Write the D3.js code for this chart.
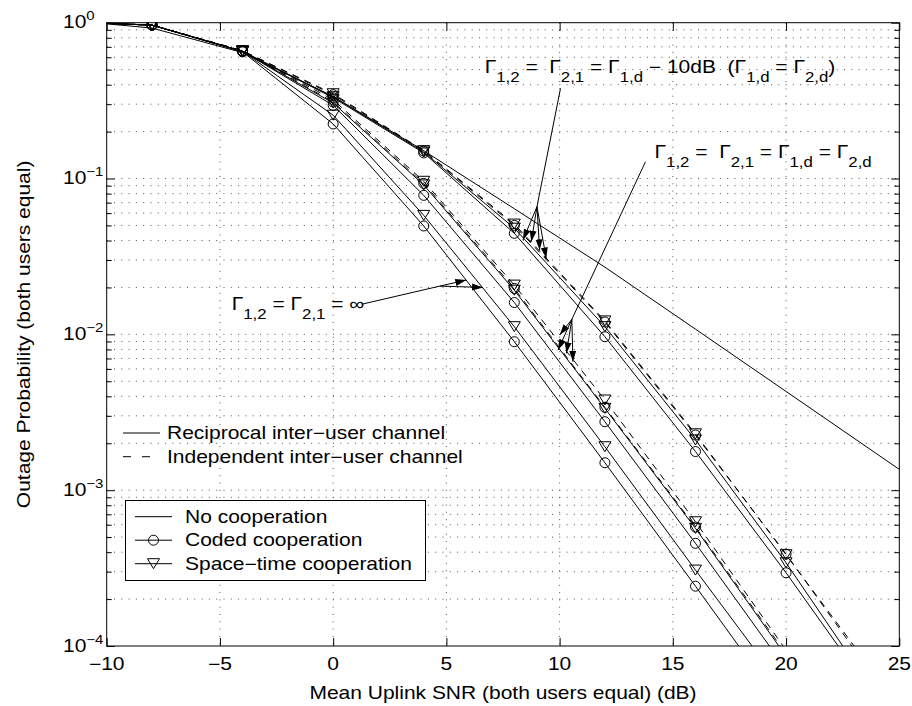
<!DOCTYPE html>
<html lang="en">
<head>
<meta charset="UTF-8" />
<title>Outage Probability vs Mean Uplink SNR</title>
<script src="https://d3js.org/d3.v7.min.js"></script>
<style>
  body { margin: 0; background: #fff; }
  svg { display: block; font-family: "Liberation Sans", Arial, Helvetica, sans-serif; }
  text { white-space: pre; fill: #000; }
</style>
</head>
<body>
<svg id="chart" width="912" height="706"></svg>
<script>
// SNR grid (dB) of the simulated curves, and where markers are drawn
const snr = [-10, -8, -4, 0, 4, 8, 12, 16, 20, 24];
const markerSnr = [-8, -4, 0, 4, 8, 12, 16, 20];

// no cooperation (runs to the right edge)
const noCoopSnr = [-10, -8, -4, 0, 4, 8, 12, 16, 20, 25];
const noCoop = [0.983, 0.924, 0.643, 0.336, 0.151, 0.064, 0.027, 0.0108, 0.0043, 0.00136];

// Γ12 = Γ21 = ∞
const codedInf = [0.99, 0.965, 0.65, 0.224, 0.0496, 0.00897, 0.0015, 0.000242, 0.000038, 0.000006];
const stInf = [0.99, 0.965, 0.655, 0.255, 0.058, 0.0112, 0.0019, 0.000307, 0.000051, 0.000008];

// Γ12 = Γ21 = Γ1d = Γ2d
const codedEqRecip = [0.99, 0.965, 0.655, 0.295, 0.078, 0.016, 0.00275, 0.000456, 0.000071, 0.000011];
const stEqRecip = [0.99, 0.965, 0.655, 0.305, 0.091, 0.0192, 0.00335, 0.000569, 0.000086, 0.000013];
const codedEqIndep = [0.99, 0.965, 0.66, 0.31, 0.093, 0.0197, 0.0034, 0.00058, 0.000089, 0.000014];
const stEqIndep = [0.99, 0.965, 0.66, 0.32, 0.096, 0.0207, 0.00379, 0.000627, 0.000094, 0.000015];

// Γ12 = Γ21 = Γ1d − 10 dB
const codedLowRecip = [0.99, 0.965, 0.655, 0.33, 0.146, 0.0445, 0.00966, 0.00177, 0.000295, 0.000045];
const stLowRecip = [0.99, 0.965, 0.655, 0.335, 0.148, 0.048, 0.0112, 0.0021, 0.000342, 0.000048];
const codedLowIndep = [0.99, 0.965, 0.66, 0.345, 0.15, 0.05, 0.012, 0.00226, 0.000389, 0.00006];
const stLowIndep = [0.99, 0.965, 0.66, 0.35, 0.151, 0.051, 0.0122, 0.0023, 0.000385, 0.000064];

const xTicks = [-10, -5, 0, 5, 10, 15, 20, 25];
const yDecades = [1, 0.1, 0.01, 0.001, 0.0001];
const yDecadeLabels = ["0", "\u22121", "\u22122", "\u22123", "\u22124"];

const series = [
  { x: noCoopSnr, y: noCoop, dash: false, marker: null },
  { x: snr, y: codedInf, dash: false, marker: "o" },
  { x: snr, y: stInf, dash: false, marker: "v" },
  { x: snr, y: codedEqRecip, dash: false, marker: "o" },
  { x: snr, y: stEqRecip, dash: false, marker: "v" },
  { x: snr, y: codedEqIndep, dash: true, marker: "o" },
  { x: snr, y: stEqIndep, dash: true, marker: "v" },
  { x: snr, y: codedLowRecip, dash: false, marker: "o" },
  { x: snr, y: stLowRecip, dash: false, marker: "v" },
  { x: snr, y: codedLowIndep, dash: true, marker: "o" },
  { x: snr, y: stLowIndep, dash: true, marker: "v" },
];

// set dimensions and margins
const margin = { top: 22.7, right: 12.7, bottom: 60, left: 106.7 },
  width = 912 - margin.left - margin.right,
  height = 706 - margin.top - margin.bottom;

const DASH = "7,6";
const FS = 17.5, SUB = 14;

const svg = d3.select("#chart");
svg.append("rect").attr("width", 912).attr("height", 706).attr("fill", "#fff");

const g = svg.append("g").attr("transform", `translate(${margin.left},${margin.top})`);

const x = d3.scaleLinear().domain([-10, 25]).range([0, width]);
const y = d3.scaleLog().domain([1e-4, 1]).range([height, 0]);

svg.append("defs").call((defs) => {
  defs.append("clipPath").attr("id", "plot-clip")
    .append("rect").attr("width", width).attr("height", height);
  defs.append("marker").attr("id", "arrow")
    .attr("markerUnits", "userSpaceOnUse")
    .attr("markerWidth", 12).attr("markerHeight", 8)
    .attr("refX", 11).attr("refY", 4).attr("orient", "auto")
    .append("path").attr("d", "M0,0.5 L11,4 L0,7.5 Z").attr("fill", "#000");
});

// text helper: the original font is a little wider than it is tall
function addText(parent, px, py, anchor, rotate) {
  return parent.append("text")
    .attr("transform", `translate(${px},${py})` + (rotate ? " rotate(-90)" : "") + " scale(1.2,1)")
    .attr("text-anchor", anchor || "start")
    .attr("font-size", FS);
}
function richText(t, parts) {
  let low = false;
  parts.forEach(([s, sub]) => {
    const ts = t.append("tspan").attr("font-size", sub ? SUB : FS).text(s);
    if (sub && !low) { ts.attr("dy", 9); low = true; }
    else if (!sub && low) { ts.attr("dy", -9); low = false; }
  });
  return t;
}

// grid (dotted)
const yAll = y.ticks();
g.append("g").selectAll("line").data(xTicks.slice(1, -1)).join("line")
  .attr("x1", (d) => x(d)).attr("x2", (d) => x(d))
  .attr("y1", 0).attr("y2", height);
g.append("g").selectAll("line").data(yAll.filter((d) => d > 1e-4 && d < 1)).join("line")
  .attr("x1", 0).attr("x2", width)
  .attr("y1", (d) => y(d)).attr("y2", (d) => y(d));
g.selectAll("g line").attr("stroke", "#555").attr("stroke-width", 1)
  .attr("stroke-dasharray", "1,6.3");

// ticks on all four sides, pointing in
const tickStyle = (a) => { a.select(".domain").remove(); a.selectAll("line").attr("stroke", "#000"); };
g.append("g").attr("transform", `translate(0,${height})`)
  .call(d3.axisBottom(x).tickValues(xTicks).tickSize(-8).tickFormat("")).call(tickStyle);
g.append("g")
  .call(d3.axisTop(x).tickValues(xTicks).tickSize(-8).tickFormat("")).call(tickStyle);
g.append("g")
  .call(d3.axisLeft(y).tickValues(yDecades).tickSize(-8).tickFormat("")).call(tickStyle);
g.append("g")
  .call(d3.axisLeft(y).tickValues(yAll.filter((d) => !yDecades.includes(d))).tickSize(-5).tickFormat("")).call(tickStyle);
g.append("g").attr("transform", `translate(${width},0)`)
  .call(d3.axisRight(y).tickValues(yDecades).tickSize(-8).tickFormat("")).call(tickStyle);
g.append("g").attr("transform", `translate(${width},0)`)
  .call(d3.axisRight(y).tickValues(yAll.filter((d) => !yDecades.includes(d))).tickSize(-5).tickFormat("")).call(tickStyle);

// curves
const line = d3.line().x((d) => x(d[0])).y((d) => y(d[1]));
const curves = g.append("g").attr("clip-path", "url(#plot-clip)");
series.forEach((s) => {
  const pts = s.x.map((v, i) => [v, s.y[i]]);
  curves.append("path").datum(pts)
    .attr("d", line)
    .attr("fill", "none").attr("stroke", "#000").attr("stroke-width", 1)
    .attr("stroke-dasharray", s.dash ? DASH : null);
});

function drawMarker(parent, type, cx, cy) {
  if (type === "o") {
    parent.append("circle").attr("cx", cx).attr("cy", cy).attr("r", 5)
      .attr("fill", "none").attr("stroke", "#000").attr("stroke-width", 1);
  } else if (type === "v") {
    parent.append("path")
      .attr("d", `M${cx - 6},${cy - 5} L${cx + 6},${cy - 5} L${cx},${cy + 5} Z`)
      .attr("fill", "none").attr("stroke", "#000").attr("stroke-width", 1);
  }
}
series.filter((s) => s.marker).forEach((s) => {
  s.x.forEach((v, i) => {
    if (markerSnr.includes(v) && s.y[i] >= 1e-4) drawMarker(curves, s.marker, x(v), y(s.y[i]));
  });
});

// box
g.append("rect").attr("width", width).attr("height", height)
  .attr("fill", "none").attr("stroke", "#000").attr("stroke-width", 1);

// tick labels
xTicks.forEach((t) => {
  addText(g, x(t), height + 24, "middle").text(t < 0 ? "\u2212" + Math.abs(t) : String(t));
});
yDecades.forEach((v, i) => {
  const t = addText(g, -43.7, y(v) + 5.5, "start");
  t.append("tspan").text("10");
  t.append("tspan").attr("font-size", 12.5).attr("dy", -8).text(yDecadeLabels[i]);
});

// axis titles
addText(g, width / 2, height + 53, "middle").text("Mean Uplink SNR (both users equal) (dB)");
addText(g, 29.5 - margin.left, height / 2, "middle", true).text("Outage Probability (both users equal)");

// annotations (positions in data units)
const ann = g.append("g");
function arrowGroup(from, joint, tips) {
  ann.append("line")
    .attr("x1", x(from[0])).attr("y1", y(from[1]))
    .attr("x2", x(joint[0])).attr("y2", y(joint[1]))
    .attr("stroke", "#000").attr("stroke-width", 1);
  tips.forEach((tp) => {
    ann.append("line")
      .attr("x1", x(joint[0])).attr("y1", y(joint[1]))
      .attr("x2", x(tp[0])).attr("y2", y(tp[1]))
      .attr("stroke", "#000").attr("stroke-width", 1)
      .attr("marker-end", "url(#arrow)");
  });
}
arrowGroup([10.04, 0.379], [9.0, 0.0659], [[8.38, 0.0403], [8.75, 0.0393], [9.12, 0.0346], [9.41, 0.0307]]);
arrowGroup([13.79, 0.128], [10.54, 0.01248], [[10.0, 0.0099], [9.93, 0.00793], [10.3, 0.00755], [10.59, 0.00667]]);
arrowGroup([1.26, 0.0156], [4.71, 0.0204], [[5.88, 0.0223], [6.62, 0.02]]);

richText(addText(ann, x(6.69), y(0.478), "start"), [
  ["\u0393"], ["1,2", true], [" =  \u0393"], ["2,1", true], [" = \u0393"], ["1,d", true],
  [" \u2212 10dB  (\u0393"], ["1,d", true], [" = \u0393"], ["2,d", true], [")"],
]);
richText(addText(ann, x(14.19), y(0.135), "start"), [
  ["\u0393"], ["1,2", true], [" =  \u0393"], ["2,1", true], [" = \u0393"], ["1,d", true],
  [" = \u0393"], ["2,d", true],
]);
richText(addText(ann, x(-4.48), y(0.0143), "start"), [
  ["\u0393"], ["1,2", true], [" = \u0393"], ["2,1", true], [" = \u221e"],
]);

// legend: inter-user channel (no box)
const leg1 = svg.append("g");
[["Reciprocal inter\u2212user channel", false, 433], ["Independent inter\u2212user channel", true, 456.7]]
  .forEach(([label, dash, ly]) => {
    leg1.append("line").attr("x1", 123).attr("x2", 160).attr("y1", ly).attr("y2", ly)
      .attr("stroke", "#000").attr("stroke-dasharray", dash ? "8,11" : null);
    addText(leg1, 167, ly + 6.2, "start").text(label);
  });

// legend: schemes (boxed)
const leg2 = svg.append("g");
leg2.append("rect").attr("x", 125.5).attr("y", 500.5).attr("width", 300).attr("height", 80)
  .attr("fill", "#fff").attr("stroke", "#000");
[["No cooperation", null, 516.7], ["Coded cooperation", "o", 540.2], ["Space\u2212time cooperation", "v", 563.7]]
  .forEach(([label, mk, ly]) => {
    leg2.append("line").attr("x1", 135).attr("x2", 172).attr("y1", ly).attr("y2", ly).attr("stroke", "#000");
    if (mk) drawMarker(leg2, mk, 153.5, ly);
    addText(leg2, 185, ly + 6.2, "start").text(label);
  });
</script>
</body>
</html>
